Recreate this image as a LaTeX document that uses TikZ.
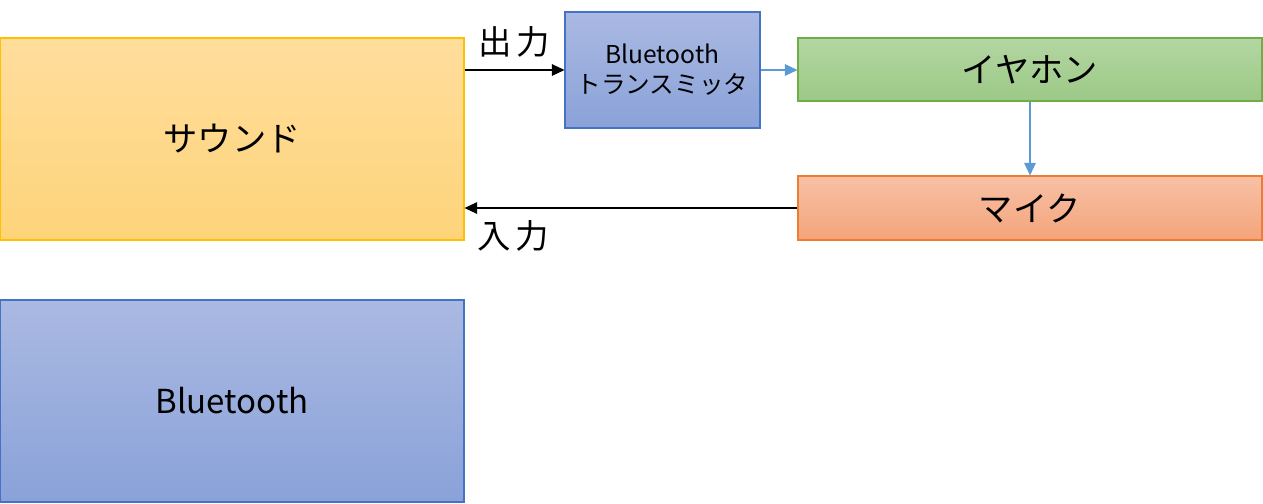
\documentclass[tikz,border=0pt]{standalone}
\usepackage{fontspec}
\setmainfont{Noto Sans CJK JP}
\usetikzlibrary{arrows.meta, positioning}

\definecolor{soundtop}{HTML}{FFDD9C}
\definecolor{soundbot}{HTML}{FED47A}
\definecolor{soundline}{HTML}{FFC000}
\definecolor{bttop}{HTML}{AAB9E2}
\definecolor{btbot}{HTML}{8AA2D9}
\definecolor{btline}{HTML}{4472C4}
\definecolor{eartop}{HTML}{B3D6A2}
\definecolor{earbot}{HTML}{9CC986}
\definecolor{earline}{HTML}{70AD47}
\definecolor{mictop}{HTML}{F7C1A6}
\definecolor{micbot}{HTML}{F4A47B}
\definecolor{micline}{HTML}{ED7D31}
\definecolor{linkblue}{HTML}{5B9BD5}

\tikzset{
  box/.style={draw, line width=0.6pt, inner sep=0pt, font=\fontsize{19.5}{23}\selectfont},
  wide/.style={box, minimum width=9.28cm},
  flow/.style={-{Triangle[length=2.5mm, width=2.3mm]}, line width=0.6pt},
}

\begin{document}
\begin{tikzpicture}
        \useasboundingbox (0,0) rectangle (25.26,-10.06);
        \node[wide, minimum height=4.04cm, top color=soundtop, bottom color=soundbot, draw=soundline] (sound) at (4.64,-2.78) {サウンド};
        \node[wide, minimum height=4.04cm, top color=bttop, bottom color=btbot, draw=btline, font=\fontsize{18.8}{23}\selectfont] (bt) at (4.64,-8.02) {Bluetooth};
        \node[box, minimum width=3.9cm, minimum height=2.32cm, top color=bttop, bottom color=btbot, draw=btline, align=center, font=\fontsize{14}{17}\selectfont] (tx) at (13.25,-1.4) {Bluetooth\\トランスミッタ};
        \node[wide, minimum height=1.26cm, top color=eartop, bottom color=earbot, draw=earline] (ear) at (20.6,-1.39) {イヤホン};
        \node[wide, minimum height=1.28cm, top color=mictop, bottom color=micbot, draw=micline] (mic) at (20.6,-4.16) {マイク};
        \draw[flow] (sound.east |- tx.west) -- node[above=0.12cm, font=\fontsize{19}{22}\selectfont] {出\hspace{0.15em}力} (tx.west);
        \draw[flow, draw=linkblue, fill=linkblue] (tx.east) -- (tx.east -| ear.west);
        \draw[flow, draw=linkblue, fill=linkblue] (ear.south) -- (mic.north);
        \draw[flow] (mic.west) -- node[pos=0.853, below=0.12cm, font=\fontsize{19}{22}\selectfont] {入\hspace{0.15em}力} (mic.west -| sound.east);
      \end{tikzpicture}
\end{document}
